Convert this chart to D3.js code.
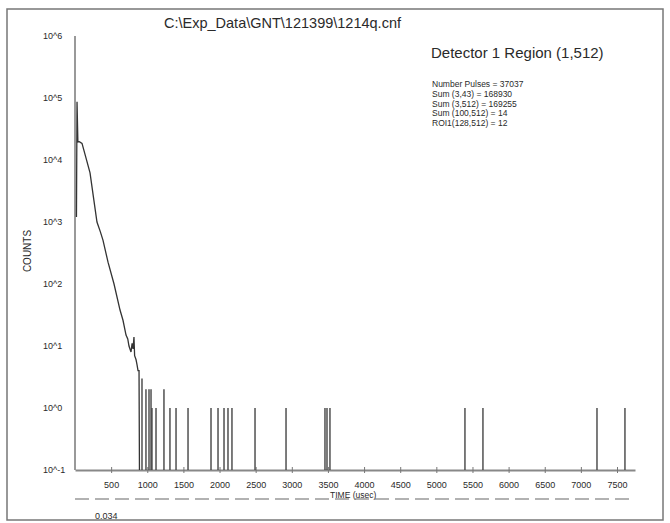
<!DOCTYPE html>
<meta charset="utf-8">
<html>
<head>
<title>Detector 1 Region</title>
<style>
    body { margin: 0; background: #fff; }
    text { font-family: "Liberation Sans", Arial, sans-serif; fill: #2a2a2a; }
    .frame { fill: none; stroke: #777; stroke-width: 1.5px; }
</style>
<script src="https://cdn.jsdelivr.net/npm/d3@7"></script>
</head>
<body>
<script>

    // decaying part of the spectrum (time in usec, counts)
    var curveTime  = [20, 28, 40, 60, 97, 150, 208, 260, 304, 350, 387, 457, 540, 623, 664, 706, 730, 747, 775, 790, 803, 816, 825, 845, 858, 872, 886, 892];
    var curveCount = [1200, 87000, 19500, 19800, 18500, 11000, 6200, 2300, 1000, 700, 510, 225, 100, 38, 26, 15, 13, 10, 8, 11, 9, 14, 7, 6, 5, 4, 4, 0.1];

    // isolated single-count channels further out
    var spikeTime  = [927, 982, 1024, 1052, 1065, 1121, 1231, 1314, 1398, 1564, 1882, 1979, 2062, 2117, 2172, 2491, 2920, 3459, 3487, 3528, 5396, 5645, 7223, 7610];
    var spikeCount = [3, 2, 2, 2, 1, 1, 2, 1, 1, 1, 1, 1, 1, 1, 1, 1, 1, 1, 1, 1, 1, 1, 1, 1];

    var xTicks = [500, 1000, 1500, 2000, 2500, 3000, 3500, 4000, 4500, 5000, 5500, 6000, 6500, 7000, 7500];
    var yExps  = [-1, 0, 1, 2, 3, 4, 5, 6];

    var fileName = "C:\\Exp_Data\\GNT\\121399\\1214q.cnf";
    var regionTitle = "Detector 1 Region (1,512)";
    var statLines = ["Number Pulses = 37037", "Sum (3,43) = 168930", "Sum (3,512) = 169255", "Sum (100,512) = 14", "ROI1(128,512) = 12"];

    var width = 670, height = 523;

    var svg = d3.select("body").append("svg")
        .attr("width", width)
        .attr("height", height);

    // outer frame
    svg.append("rect").attr("class", "frame")
        .attr("x", 7).attr("y", 9).attr("width", 656).attr("height", 511);

    var x = d3.scaleLinear().domain([0, 7749]).range([75, 635]);
    var y = d3.scaleLog().domain([0.1, 1e6]).range([470, 36]);

    // y axis
    svg.append("line")
        .attr("x1", x(0)).attr("x2", x(0))
        .attr("y1", y(1e6)).attr("y2", y(0.1))
        .style("stroke", "#555").style("stroke-width", 1.2);

    svg.selectAll("text.ytick")
      .data(yExps)
      .enter().append("text")
      .attr("class", "ytick")
      .attr("x", 43)
      .attr("y", function(d) { return y(Math.pow(10, d)) + 3; })
      .style("font-size", "9px")
      .text(function(d) { return "10^" + d; });

    svg.append("text")
        .attr("transform", "translate(31,251) rotate(-90)")
        .attr("text-anchor", "middle")
        .style("font-size", "10px")
        .text("COUNTS");

    // x axis
    var xAxis = d3.axisBottom(x).tickValues(xTicks).tickFormat(d3.format("d")).tickSize(0).tickPadding(12);
    var gx = svg.append("g")
        .attr("transform", "translate(0," + y(0.1) + ")")
        .call(xAxis);
    gx.select(".domain").style("stroke", "#888").style("stroke-width", 2);
    gx.selectAll("text").style("font-size", "9px").style("font-family", "Liberation Sans, Arial, sans-serif").style("fill", "#2a2a2a");
    gx.selectAll(".tick").append("line")
        .attr("y1", -3).attr("y2", 3)
        .style("stroke", "#777");

    // data curve
    var line = d3.line()
        .x(function(d, i) { return x(curveTime[i]); })
        .y(function(d, i) { return y(curveCount[i]); });
    svg.append("path")
        .datum(curveTime)
        .attr("d", line)
        .style("fill", "none")
        .style("stroke", "#333")
        .style("stroke-width", 1.3);

    svg.selectAll("line.spike")
      .data(spikeTime)
      .enter().append("line")
      .attr("class", "spike")
      .attr("x1", function(d) { return x(d); })
      .attr("x2", function(d) { return x(d); })
      .attr("y1", y(0.1))
      .attr("y2", function(d, i) { return y(spikeCount[i]); })
      .style("stroke", "#444")
      .style("stroke-width", 1.4);

    // dashed time line under the axis
    svg.append("line")
        .attr("x1", 75).attr("x2", 635)
        .attr("y1", 499).attr("y2", 499)
        .style("stroke", "#666").style("stroke-width", 1.2)
        .style("stroke-dasharray", "14,6");
    svg.append("text")
        .attr("x", 330).attr("y", 498)
        .style("font-size", "8.5px")
        .text("TIME (usec)");

    svg.append("text")
        .attr("x", 95).attr("y", 519)
        .style("font-size", "9px")
        .text("0.034");

    // titles and stats
    svg.append("text")
        .attr("x", 164).attr("y", 28)
        .style("font-size", "14.5px")
        .text(fileName);

    svg.append("text")
        .attr("x", 431).attr("y", 58)
        .style("font-size", "15px")
        .text(regionTitle);

    svg.selectAll("text.stat")
      .data(statLines)
      .enter().append("text")
      .attr("class", "stat")
      .attr("x", 432)
      .attr("y", function(d, i) { return 87 + i * 9.8; })
      .style("font-size", "8.5px")
      .text(function(d) { return d; });

</script>
</body>
</html>
